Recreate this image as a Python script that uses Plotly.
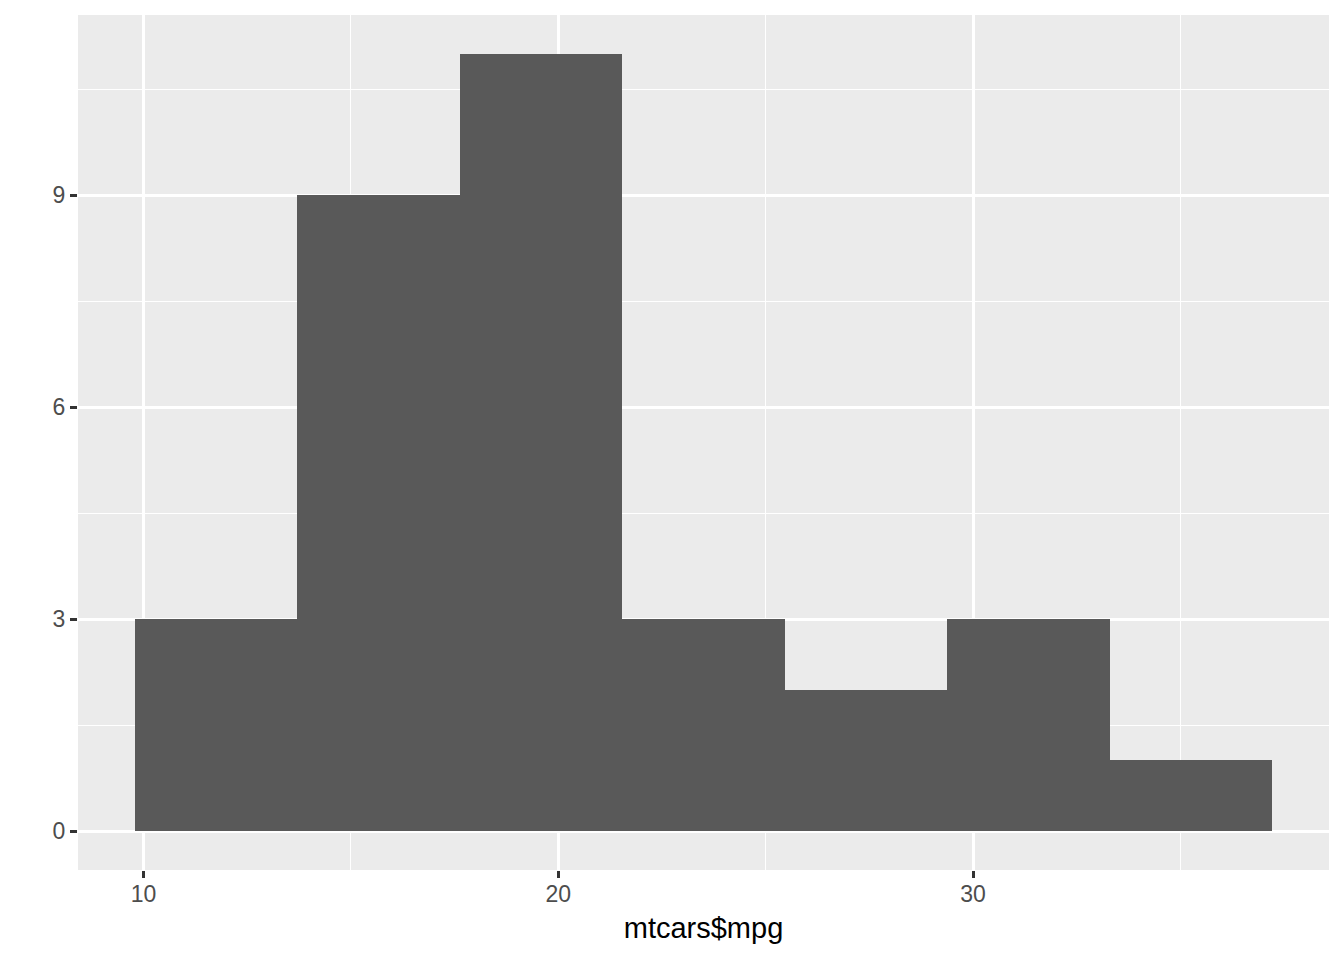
import plotly.graph_objects as go

# ggplot2 histogram of mtcars$mpg, bins = 7
bin_edges = [9.791667, 13.708333, 17.625, 21.541667, 25.458333, 29.375, 33.291667, 37.208333]
counts = [3, 9, 11, 3, 2, 3, 1]
x_ticks = [10, 20, 30]
y_ticks = [0, 3, 6, 9]

centers = [(bin_edges[i] + bin_edges[i + 1]) / 2 for i in range(len(counts))]
widths = [bin_edges[i + 1] - bin_edges[i] for i in range(len(counts))]

fig = go.Figure()
fig.add_trace(go.Bar(
    x=centers, y=counts, width=widths,
    marker=dict(color="#595959", line=dict(width=0)),
    hoverinfo="x+y",
))

xr = bin_edges[-1] - bin_edges[0]
yr = max(counts)
fig.update_layout(
    width=1336, height=952,
    margin=dict(l=70, r=15, t=7, b=90),
    paper_bgcolor="white", plot_bgcolor="#EBEBEB",
    showlegend=False, bargap=0,
    font=dict(family="Liberation Sans, Arial, sans-serif"),
    xaxis=dict(
        range=[bin_edges[0] - 0.05 * xr, bin_edges[-1] + 0.05 * xr],
        tickvals=x_ticks, ticktext=[str(v) for v in x_ticks],
        showgrid=True, gridcolor="white", gridwidth=2.8,
        minor=dict(dtick=5, tick0=5, showgrid=True, gridcolor="white", gridwidth=1.4, ticks=""),
        ticks="outside", ticklen=7, tickwidth=2.8, tickcolor="#333333",
        tickfont=dict(size=23, color="#4D4D4D"), ticklabelstandoff=-4,
        zeroline=False, showline=False,
        title=dict(text="mtcars$mpg", font=dict(size=29, color="black"), standoff=12),
    ),
    yaxis=dict(
        range=[-0.05 * yr, yr * 1.05],
        tickvals=y_ticks, ticktext=[str(v) for v in y_ticks],
        showgrid=True, gridcolor="white", gridwidth=2.8,
        minor=dict(dtick=1.5, tick0=1.5, showgrid=True, gridcolor="white", gridwidth=1.4, ticks=""),
        ticks="outside", ticklen=7, tickwidth=2.8, tickcolor="#333333",
        tickfont=dict(size=23, color="#4D4D4D"),
        zeroline=False, showline=False,
    ),
)

fig.write_html("out.html")
